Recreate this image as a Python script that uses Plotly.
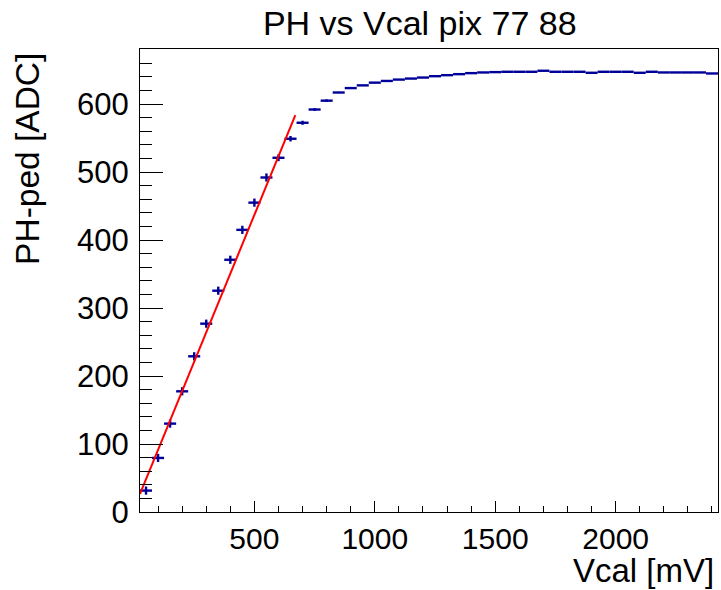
import numpy as np
import plotly.graph_objects as go

# Pulse height (pedestal subtracted) versus calibration voltage, 50 mV bins
vcal_mv = [50, 100, 150, 200, 250, 300, 350, 400, 450, 500, 550, 600, 650, 700,
           750, 800, 850, 900, 950, 1000, 1050, 1100, 1150, 1200, 1250, 1300,
           1350, 1400, 1450, 1500, 1550, 1600, 1650, 1700, 1750, 1800, 1850,
           1900, 1950, 2000, 2050, 2100, 2150, 2200, 2250, 2300, 2350, 2400]
ph_adc = [31.5, 79.5, 130, 177.5, 229, 277, 325.5, 371, 415, 455, 492, 521, 549,
          572.5, 592, 605, 617, 623.5, 627.5, 631.5, 634, 636, 637.5, 639, 641,
          642.5, 644, 645.5, 646.5, 647, 647.5, 647.5, 647.5, 649, 647.5, 647.5,
          647.5, 646, 647.5, 647.5, 647.5, 646, 647.5, 646.5, 646.5, 646.5,
          646.5, 645]
ph_err = [6, 6, 6, 6, 6, 6, 6, 6, 6, 6, 6, 5, 4, 3,
          2, 2, 1, 1, 0, 0, 0, 0, 0, 0, 0, 0,
          0, 0, 0, 0, 0, 0, 0, 0, 0, 0, 0,
          0, 0, 0, 0, 0, 0, 0, 0, 0, 0, 0]
bin_half_width = 25

# Linear fit over the low-Vcal region
fit_intercept = 5.0
fit_slope = 0.864
fit_range = [25, 670]

x_range = [25, 2425]
y_range = [0, 681]

FONT = "Liberation Sans"
BLUE = "#000099"

fig = go.Figure()

fig.add_trace(go.Scatter(
    x=vcal_mv, y=ph_adc, mode="markers",
    marker=dict(size=1, color=BLUE),
    error_x=dict(type="constant", value=bin_half_width, width=0,
                 thickness=2.4, color=BLUE),
    error_y=dict(type="data", array=ph_err, width=0,
                 thickness=2.4, color=BLUE),
    showlegend=False,
))

fit_x = np.array(fit_range, dtype=float)
fit_y = fit_intercept + fit_slope * fit_x
fig.add_trace(go.Scatter(
    x=fit_x, y=fit_y, mode="lines",
    line=dict(color="#ff0000", width=2),
    showlegend=False,
))

fig.update_layout(
    width=721, height=590,
    margin=dict(l=140, r=3, t=49, b=78),
    paper_bgcolor="white", plot_bgcolor="white",
    font=dict(family=FONT, size=31, color="black"),
    title=dict(text="PH vs Vcal pix 77 88", x=0.484, xref="paper",
               xanchor="center", y=0.961, yanchor="middle",
               font=dict(family=FONT, size=34, color="black")),
)

fig.update_xaxes(
    range=x_range, tickmode="array", tickvals=[500, 1000, 1500, 2000],
    ticks="inside", ticklen=11, tickwidth=1, tickcolor="black",
    minor=dict(ticks="inside", ticklen=6, dtick=100, tick0=0,
               tickcolor="black", tickwidth=1),
    showline=True, linecolor="black", linewidth=1, mirror=True,
    showgrid=False, zeroline=False,
    tickfont=dict(family=FONT, size=30), ticklabelstandoff=0,
)
fig.update_yaxes(
    range=y_range, tickmode="linear", tick0=0, dtick=100,
    ticks="inside", ticklen=23, tickwidth=1, tickcolor="black",
    minor=dict(ticks="inside", ticklen=12, dtick=20, tick0=0,
               tickcolor="black", tickwidth=1),
    showline=True, linecolor="black", linewidth=1, mirror=True,
    showgrid=False, zeroline=False,
    tickfont=dict(family=FONT, size=31), ticklabelstandoff=4,
)

fig.add_annotation(
    text="PH-ped [ADC]", textangle=-90, showarrow=False,
    xref="paper", yref="paper", x=-0.196, y=0.762,
    xanchor="center", yanchor="middle",
    font=dict(family=FONT, size=33.5, color="black"),
)
fig.add_annotation(
    text="Vcal [mV]", showarrow=False,
    xref="paper", yref="paper", x=0.9965, y=-0.126,
    xanchor="right", yanchor="middle",
    font=dict(family=FONT, size=33, color="black"),
)

fig.write_html("out.html")
